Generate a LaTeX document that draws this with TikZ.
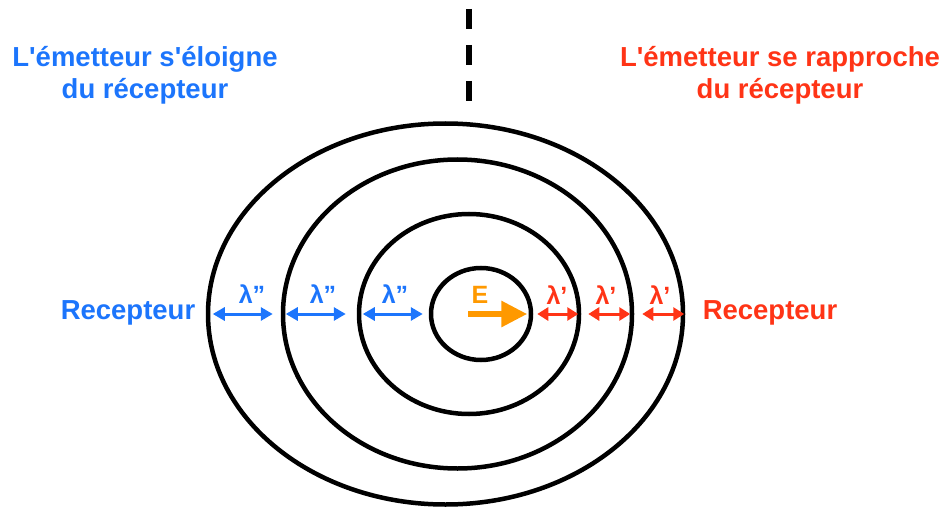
\documentclass[tikz,border=0pt]{standalone}
\usepackage{fontspec}
\newfontfamily\hf{Liberation Sans}
\usetikzlibrary{shapes.geometric,arrows.meta}
\definecolor{myblue}{RGB}{28,117,252}
\definecolor{myred}{RGB}{255,52,22}
\definecolor{myorange}{RGB}{255,153,0}
\begin{document}
\begin{tikzpicture}[x=1pt,y=-1pt,
  wave/.style={draw=black,ellipse,line width=4.5pt,inner sep=0pt},
  title/.style={font=\hf\bfseries\fontsize{27.5}{32}\selectfont,align=center,inner sep=0pt},
  recv/.style={font=\hf\bfseries\fontsize{27.5}{32}\selectfont,inner sep=0pt},
  lam/.style={font=\hf\bfseries\fontsize{25}{28}\selectfont,inner sep=0pt},
  barrow/.style={myblue,line width=3pt,{Triangle[length=12pt,width=13pt]}-{Triangle[length=12pt,width=13pt]}},
  rarrow/.style={myred,line width=3pt,{Triangle[length=11pt,width=13pt]}-{Triangle[length=11pt,width=13pt]}}]
\useasboundingbox (0,0) rectangle (948,508);
% wave fronts
\node[wave,minimum width=475pt,minimum height=381pt] (w4) at (445.5,314) {};
\node[wave,minimum width=349pt,minimum height=309pt] (w3) at (457.5,314) {};
\node[wave,minimum width=220pt,minimum height=200pt] (w2) at (469,314) {};
\node[wave,minimum width=100pt,minimum height=92pt] (w1) at (481,314) {};
% dashed separator
\coordinate (dtop) at (469,9);
\coordinate (dbot) at (469,101);
\draw[line width=6pt,dash pattern=on 20pt off 16pt] (dtop) -- (dbot);
% titles
\node[title,text=myblue] (tl) at (145,75) {L'émetteur s'éloigne\\du récepteur};
\node[title,text=myred] (tr) at (780,75) {L'émetteur se rapproche\\du récepteur};
% receivers
\node[recv,text=myblue] (rl) at (128,313) {Recepteur};
\node[recv,text=myred] (rr) at (770,313) {Recepteur};
% blue wavelengths
\draw[barrow] ([xshift=7pt]w4.west) -- ([xshift=-8pt]w3.west);
\draw[barrow] ([xshift=5pt]w3.west) -- ([xshift=-11pt]w2.west);
\draw[barrow] ([xshift=6pt]w2.west) -- ([xshift=-6pt]w1.west);
\node[lam,text=myblue] (lb1) at (252,294) {λ”};
\node[lam,text=myblue] (lb2) at (323,294) {λ”};
\node[lam,text=myblue] (lb3) at (395,294) {λ”};
% red wavelengths
\draw[rarrow] ([xshift=4pt]w1.east) -- ([xshift=-3pt]w2.east);
\draw[rarrow] ([xshift=7pt]w2.east) -- ([xshift=-4pt]w3.east);
\draw[rarrow] ([xshift=8pt]w3.east) -- ([xshift=-1pt]w4.east);
\node[lam,text=myred] (lr1) at (557,295) {λ’};
\node[lam,text=myred] (lr2) at (606,295) {λ’};
\node[lam,text=myred] (lr3) at (660,295) {λ’};
% emitter
\node[lam,text=myorange] (e) at (480,295) {E};
\coordinate (es) at (468,314);
\draw[myorange,line width=6pt,-{Triangle[length=26pt,width=25pt]}] (es) -- ([xshift=-6pt]w1.east);
\end{tikzpicture}
\end{document}
